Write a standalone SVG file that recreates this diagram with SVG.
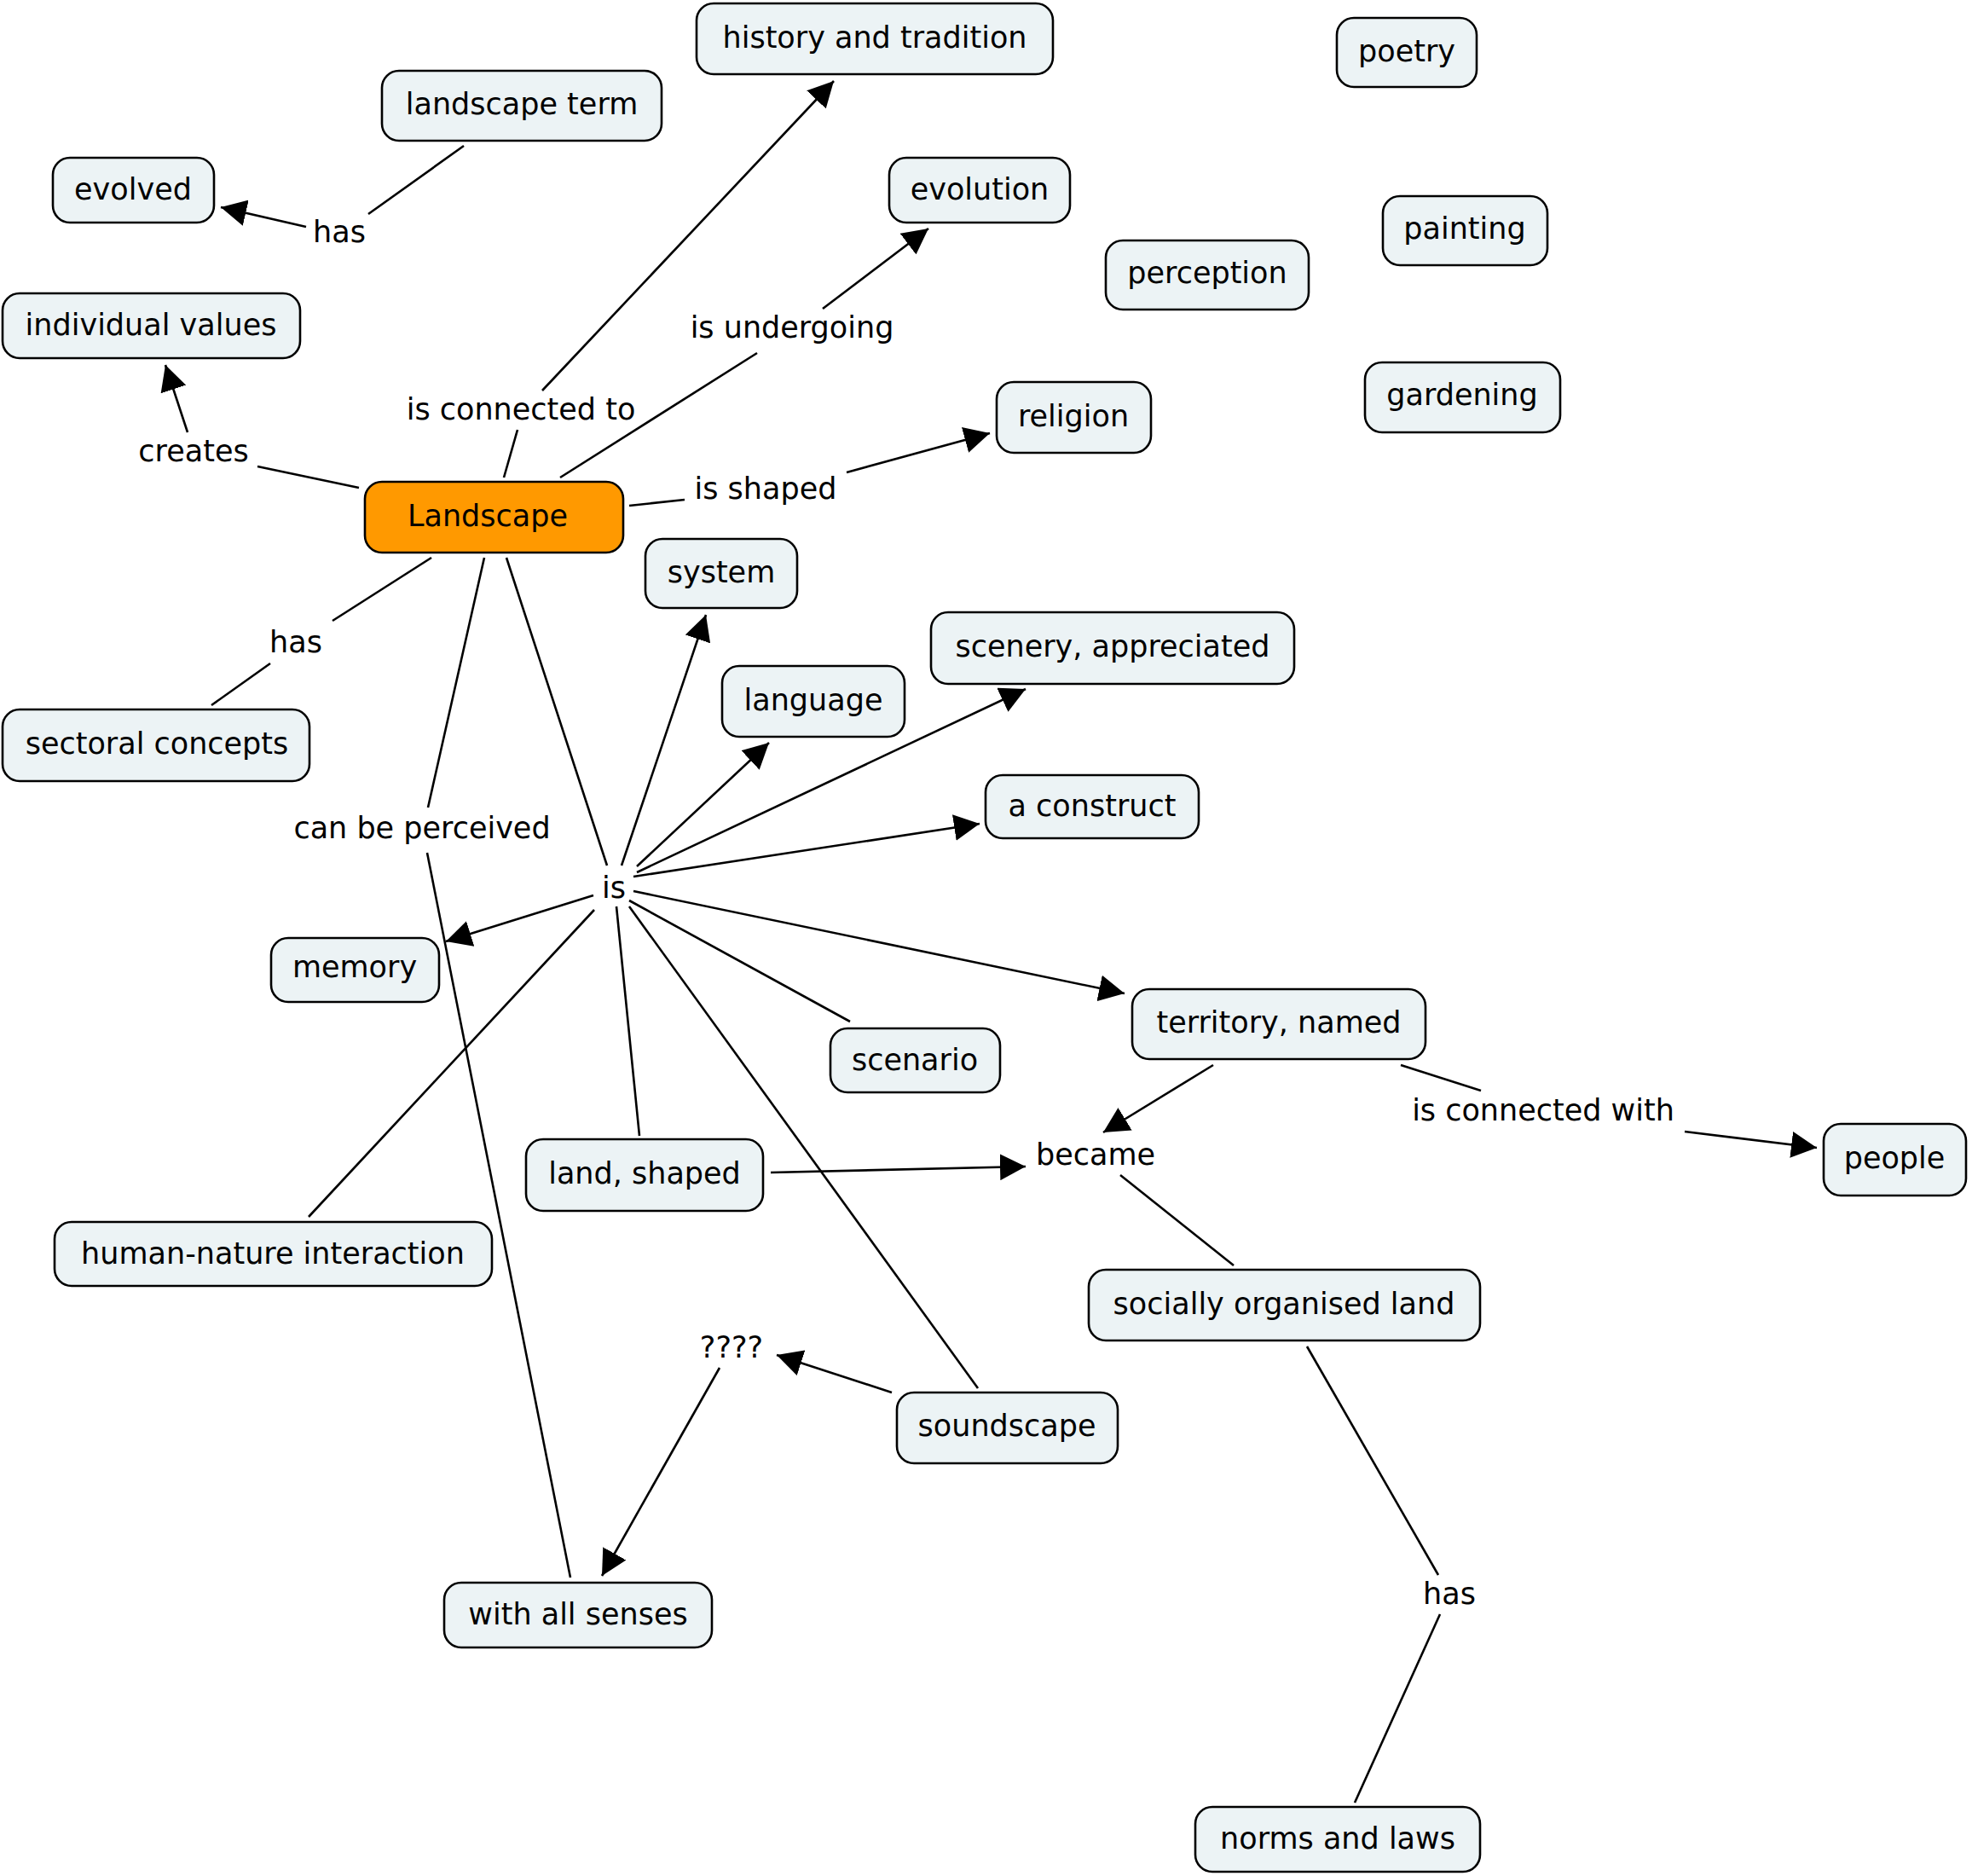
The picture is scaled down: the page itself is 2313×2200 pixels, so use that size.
<svg xmlns="http://www.w3.org/2000/svg" width="2313" height="2200" viewBox="0 0 2313 2200">
<style>
.n rect{fill:#ECF3F5;stroke:#000;stroke-width:2.6}
.n.main rect{fill:#FF9900}
text{font-family:"DejaVu Sans",Verdana,sans-serif;font-size:35px;fill:#000;text-anchor:middle}
.c line{stroke:#000;stroke-width:2.6}
.c line.a{marker-end:url(#ah)}
</style>
<defs>
<marker id="ah" markerUnits="userSpaceOnUse" markerWidth="31" markerHeight="31" refX="30" refY="15.5" orient="auto">
<path d="M0,0 L30,15.5 L0,31 z" fill="#000"/>
</marker>
</defs>
<rect width="2313" height="2200" fill="#fff"/>
<g id="connectors" class="c">
<line x1="544" y1="171" x2="432" y2="251"/>
<line class="a" x1="359" y1="266" x2="259" y2="243"/>
<line x1="421" y1="572" x2="302" y2="547"/>
<line class="a" x1="220" y1="507" x2="194" y2="428"/>
<line x1="591" y1="560" x2="607" y2="504"/>
<line class="a" x1="636" y1="458" x2="978" y2="95"/>
<line x1="657" y1="560" x2="888" y2="414"/>
<line class="a" x1="965" y1="362" x2="1089" y2="268"/>
<line x1="738" y1="593" x2="803" y2="586"/>
<line class="a" x1="993" y1="554" x2="1161" y2="508"/>
<line x1="506" y1="654" x2="390" y2="728"/>
<line x1="317" y1="778" x2="248" y2="827"/>
<line x1="568" y1="654" x2="502" y2="947"/>
<line x1="501" y1="1000" x2="669" y2="1850"/>
<line x1="594" y1="654" x2="712" y2="1015"/>
<line class="a" x1="729" y1="1015" x2="828" y2="721"/>
<line class="a" x1="747" y1="1016" x2="902" y2="871"/>
<line class="a" x1="747" y1="1023" x2="1203" y2="808"/>
<line class="a" x1="743" y1="1028" x2="1149" y2="966"/>
<line class="a" x1="696" y1="1050" x2="523" y2="1104"/>
<line class="a" x1="743" y1="1045" x2="1319" y2="1165"/>
<line x1="738" y1="1056" x2="997" y2="1198"/>
<line x1="697" y1="1067" x2="362" y2="1427"/>
<line x1="723" y1="1063" x2="750" y2="1332"/>
<line x1="738" y1="1063" x2="1147" y2="1628"/>
<line class="a" x1="1423" y1="1249" x2="1294" y2="1328"/>
<line class="a" x1="904" y1="1375" x2="1203" y2="1368"/>
<line x1="1314" y1="1378" x2="1447" y2="1484"/>
<line x1="1643" y1="1249" x2="1737" y2="1279"/>
<line class="a" x1="1976" y1="1327" x2="2131" y2="1346"/>
<line x1="1533" y1="1579" x2="1687" y2="1847"/>
<line x1="1689" y1="1893" x2="1589" y2="2114"/>
<line class="a" x1="1046" y1="1633" x2="911" y2="1589"/>
<line class="a" x1="844" y1="1604" x2="706" y2="1848"/>
</g>
<g id="labels">
<text x="398" y="284">has</text>
<text x="227" y="541">creates</text>
<text x="611" y="492">is connected to</text>
<text x="929" y="396">is undergoing</text>
<text x="898" y="585">is shaped</text>
<text x="347" y="765">has</text>
<text x="495" y="983">can be perceived</text>
<text x="720" y="1053">is</text>
<text x="1285" y="1366">became</text>
<text x="1810" y="1314">is connected with</text>
<text x="858" y="1592">????</text>
<text x="1700" y="1881">has</text>
</g>
<g id="n-history" class="n"><rect x="817" y="4" width="418" height="83" rx="20"/><text x="1026" y="56">history and tradition</text></g>
<g id="n-landscape-term" class="n"><rect x="448" y="83" width="328" height="82" rx="20"/><text x="612" y="134">landscape term</text></g>
<g id="n-evolved" class="n"><rect x="62" y="185" width="189" height="76" rx="20"/><text x="156" y="234">evolved</text></g>
<g id="n-individual-values" class="n"><rect x="3" y="344" width="349" height="76" rx="20"/><text x="177" y="393">individual values</text></g>
<g id="n-landscape" class="n main"><rect x="428" y="565" width="303" height="83" rx="20"/><text x="572" y="617">Landscape</text></g>
<g id="n-sectoral" class="n"><rect x="3" y="832" width="360" height="84" rx="20"/><text x="184" y="884">sectoral concepts</text></g>
<g id="n-evolution" class="n"><rect x="1043" y="185" width="212" height="76" rx="20"/><text x="1149" y="234">evolution</text></g>
<g id="n-poetry" class="n"><rect x="1568" y="21" width="164" height="81" rx="20"/><text x="1650" y="72">poetry</text></g>
<g id="n-painting" class="n"><rect x="1622" y="230" width="193" height="81" rx="20"/><text x="1718" y="280">painting</text></g>
<g id="n-perception" class="n"><rect x="1297" y="282" width="238" height="81" rx="20"/><text x="1416" y="332">perception</text></g>
<g id="n-gardening" class="n"><rect x="1601" y="425" width="229" height="82" rx="20"/><text x="1715" y="475">gardening</text></g>
<g id="n-religion" class="n"><rect x="1169" y="448" width="181" height="83" rx="20"/><text x="1259" y="500">religion</text></g>
<g id="n-system" class="n"><rect x="757" y="632" width="178" height="81" rx="20"/><text x="846" y="683">system</text></g>
<g id="n-scenery" class="n"><rect x="1092" y="718" width="426" height="84" rx="20"/><text x="1305" y="770">scenery, appreciated</text></g>
<g id="n-language" class="n"><rect x="847" y="781" width="214" height="83" rx="20"/><text x="954" y="833">language</text></g>
<g id="n-construct" class="n"><rect x="1156" y="909" width="250" height="74" rx="20"/><text x="1281" y="957">a construct</text></g>
<g id="n-memory" class="n"><rect x="318" y="1100" width="197" height="75" rx="20"/><text x="416" y="1146">memory</text></g>
<g id="n-territory" class="n"><rect x="1328" y="1160" width="344" height="82" rx="20"/><text x="1500" y="1211">territory, named</text></g>
<g id="n-scenario" class="n"><rect x="974" y="1206" width="199" height="75" rx="20"/><text x="1073" y="1255">scenario</text></g>
<g id="n-land-shaped" class="n"><rect x="617" y="1336" width="278" height="84" rx="20"/><text x="756" y="1388">land, shaped</text></g>
<g id="n-people" class="n"><rect x="2139" y="1318" width="167" height="84" rx="20"/><text x="2222" y="1370">people</text></g>
<g id="n-human-nature" class="n"><rect x="64" y="1433" width="513" height="75" rx="20"/><text x="320" y="1482">human-nature interaction</text></g>
<g id="n-socially" class="n"><rect x="1277" y="1489" width="459" height="83" rx="20"/><text x="1506" y="1541">socially organised land</text></g>
<g id="n-soundscape" class="n"><rect x="1052" y="1633" width="259" height="83" rx="20"/><text x="1181" y="1684">soundscape</text></g>
<g id="n-with-all-senses" class="n"><rect x="521" y="1856" width="314" height="76" rx="20"/><text x="678" y="1905">with all senses</text></g>
<g id="n-norms" class="n"><rect x="1402" y="2119" width="334" height="76" rx="20"/><text x="1569" y="2168">norms and laws</text></g>
</svg>
